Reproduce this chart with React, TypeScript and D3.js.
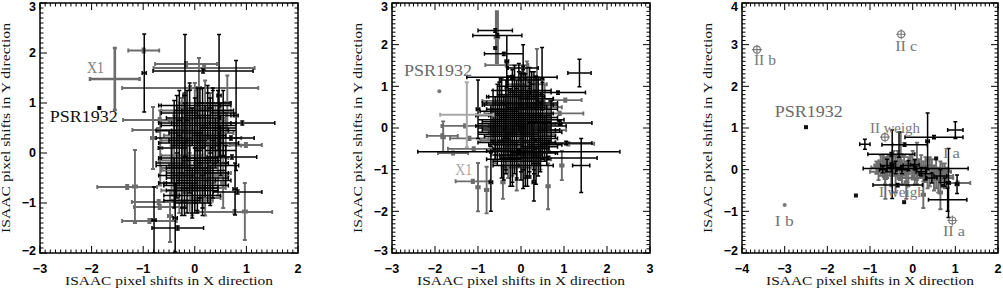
import React from "react";
import * as d3 from "d3";

// each point: [x, y, xerr, yerr] in ISAAC pixels
type Pt = [number, number, number, number];

// ---- panel 1 ----
const p1Gray: Pt[] = [
  [-0.25, 0.65, 0.4, 0.45], [0.0, 0.9, 0.35, 0.5], [0.15, 0.5, 0.45, 0.4], [0.3, 0.85, 0.4, 0.35],
  [-0.1, 0.35, 0.5, 0.55], [0.5, 0.6, 0.3, 0.4], [-0.35, 0.45, 0.35, 0.3], [0.2, 1.0, 0.5, 0.45],
  [0.05, 0.65, 0.55, 0.6], [0.4, 0.4, 0.35, 0.6], [-0.2, 0.85, 0.45, 0.35], [0.6, 0.3, 0.3, 0.5],
  [0.1, 0.25, 0.4, 0.45], [-0.4, 0.25, 0.25, 0.5],
  [-0.2, -0.3, 0.45, 0.5], [0.0, -0.45, 0.4, 0.55], [0.15, -0.7, 0.45, 0.4], [-0.3, -0.75, 0.35, 0.45],
  [0.25, -0.1, 0.4, 0.5], [-0.1, -0.6, 0.5, 0.6], [0.05, -0.25, 0.55, 0.45], [-0.4, -0.15, 0.3, 0.4],
  [0.3, -0.45, 0.35, 0.55], [-0.05, -0.95, 0.4, 0.3], [0.2, -0.9, 0.3, 0.35], [-0.25, -0.05, 0.4, 0.35],
  [0.55, 0.15, 0.35, 0.55], [0.45, -0.4, 0.25, 0.45], [-0.45, -0.35, 0.2, 0.5],
  [-1.31, -0.68, 0.58, 0.04], [-0.88, -1.36, 0.53, 0.04], [-1.16, -0.67, 0.04, 0.73],
  [-0.7, -0.98, 0.52, 0.04], [-0.68, -1.08, 0.5, 0.04], [-0.48, -1.26, 0.04, 0.52],
  [0.97, -1.17, 0.04, 0.57], [0.77, -1.18, 0.73, 0.04], [0.99, 0.16, 0.31, 0.04],
  [-0.09, 1.3, 1.32, 0.04], [0.18, 1.7, 0.98, 0.04], [-0.68, 0.66, 0.71, 0.04],
  [-0.71, 0.46, 0.5, 0.04], [0.08, 1.3, 0.04, 0.6], [-0.81, 0.3, 0.04, 0.62],
  [-0.67, 0.1, 0.04, 0.75], [-0.99, 2.05, 0.3, 0.04], [0.63, 1.0, 0.04, 0.55],
  [-0.17, 1.78, 0.6, 0.04], [0.55, -0.6, 0.04, 0.5],
];
const p1X1: Pt[] = [[-1.55, 1.48, 0.48, 0.62]];
const p1Black: Pt[] = [
  [-0.3, 0.55, 0.35, 0.4], [-0.1, 0.7, 0.45, 0.55], [0.05, 0.85, 0.3, 0.45], [0.2, 0.6, 0.5, 0.35],
  [0.35, 0.75, 0.4, 0.5], [-0.2, 0.4, 0.3, 0.6], [0.1, 0.45, 0.55, 0.4], [0.45, 0.5, 0.35, 0.45],
  [-0.35, 0.8, 0.3, 0.35], [0.25, 0.95, 0.45, 0.4], [0.0, 0.3, 0.4, 0.5], [-0.15, 0.95, 0.5, 0.3],
  [0.3, 0.35, 0.3, 0.55], [0.55, 0.8, 0.25, 0.45], [-0.25, 0.2, 0.45, 0.4], [0.15, 0.7, 0.35, 0.6],
  [-0.05, 0.55, 0.6, 0.35], [0.4, 0.2, 0.45, 0.5],
  [-0.4, 0.6, 0.3, 0.45], [-0.3, 0.95, 0.4, 0.3], [-0.15, 0.25, 0.35, 0.5], [0.0, 0.6, 0.45, 0.5],
  [0.1, 0.95, 0.4, 0.35], [0.2, 0.3, 0.35, 0.45], [0.3, 0.55, 0.5, 0.55], [0.45, 0.85, 0.3, 0.4],
  [0.55, 0.45, 0.25, 0.5], [-0.25, 0.45, 0.5, 0.35], [0.05, 0.15, 0.45, 0.4], [0.35, 1.0, 0.35, 0.3],
  [-0.1, 0.85, 0.3, 0.55], [0.25, 0.75, 0.45, 0.45], [-0.35, 0.3, 0.4, 0.55],
  [-0.15, -0.4, 0.4, 0.55], [0.05, -0.55, 0.35, 0.6], [-0.3, -0.25, 0.45, 0.4], [0.2, -0.35, 0.4, 0.5],
  [-0.05, -0.75, 0.5, 0.45], [0.1, -0.15, 0.35, 0.55], [-0.25, -0.6, 0.3, 0.5], [0.3, -0.65, 0.35, 0.4],
  [-0.1, -0.1, 0.55, 0.35], [0.0, -0.85, 0.3, 0.35], [-0.35, -0.45, 0.35, 0.45], [0.15, -0.5, 0.5, 0.6],
  [-0.2, -0.85, 0.4, 0.4], [0.35, -0.2, 0.3, 0.45],
  [-0.4, -0.6, 0.3, 0.5], [-0.25, -0.95, 0.35, 0.3], [-0.1, -0.3, 0.45, 0.5], [0.05, -0.7, 0.4, 0.5],
  [0.2, -0.15, 0.3, 0.4], [0.25, -0.55, 0.45, 0.45], [-0.3, -0.1, 0.4, 0.45], [-0.05, -1.0, 0.35, 0.3],
  [0.1, -0.4, 0.5, 0.5], [-0.2, -0.5, 0.35, 0.6], [0.35, -0.4, 0.3, 0.5], [-0.15, -0.65, 0.45, 0.55],
  [0.0, -0.1, 0.35, 0.45], [-0.45, -0.2, 0.3, 0.4], [0.15, -0.85, 0.35, 0.4],
  [0.5, 0.05, 0.3, 0.5], [0.6, -0.25, 0.25, 0.4], [-0.45, 0.1, 0.25, 0.35],
  [-0.98, 1.6, 0.04, 0.78], [-0.19, 1.15, 0.04, 1.22], [0.47, 1.15, 0.04, 1.22], [0.8, 0.75, 0.04, 1.1],
  [0.16, 1.64, 0.97, 0.04], [-0.33, -1.5, 0.5, 0.04], [-0.79, -1.34, 0.04, 0.66],
  [-0.38, -1.3, 0.04, 0.68], [0.83, -0.78, 0.47, 0.04], [0.78, -0.72, 0.04, 0.52],
  [0.92, 0.6, 0.63, 0.04], [0.72, -0.08, 0.48, 0.04], [0.7, 0.3, 0.45, 0.04],
];

// ---- panel 2 ----
const p2Gray: Pt[] = [
  [-0.4, 0.05, 0.5, 0.75], [-0.15, 0.45, 0.55, 0.6], [0.1, -0.45, 0.5, 0.7], [0.35, 0.1, 0.45, 0.8],
  [-0.3, -0.65, 0.4, 0.55], [0.2, 0.7, 0.55, 0.5], [-0.05, -0.1, 0.7, 0.85], [0.45, -0.35, 0.35, 0.65],
  [-0.5, 0.65, 0.4, 0.45], [0.05, 0.25, 0.6, 0.7], [-0.2, -0.35, 0.45, 0.8], [0.3, -0.75, 0.4, 0.5],
  [0.55, 0.5, 0.4, 0.55], [-0.35, 0.35, 0.5, 0.6], [0.15, 1.05, 0.45, 0.4], [-0.6, -0.3, 0.35, 0.55],
  [0.0, 0.6, 0.5, 0.75], [0.25, -0.15, 0.55, 0.65], [-0.1, -0.95, 0.35, 0.55], [0.65, -0.05, 0.4, 0.5],
  [-0.33, 1.51, 0.5, 0.04], [-1.83, -0.19, 0.36, 0.04], [-1.81, -0.22, 0.04, 0.38],
  [-1.12, -1.28, 0.4, 0.04], [-1.58, -0.6, 0.35, 0.04], [-1.0, -1.42, 0.04, 0.58],
  [-0.8, -1.49, 0.04, 0.56], [-0.42, -1.3, 0.04, 0.4], [0.63, -1.4, 0.04, 0.55],
  [0.95, -0.9, 0.04, 0.35], [1.03, 0.67, 0.38, 0.04], [0.37, 1.2, 0.04, 0.7],
  [0.14, 1.0, 0.04, 0.6], [1.1, -0.38, 0.6, 0.04], [-1.3, 0.05, 0.55, 0.04], [-1.1, -0.5, 0.6, 0.04],
  [0.9, 0.35, 0.55, 0.04], [-1.2, -0.25, 0.45, 0.04],
];
const p2GrayThick: Pt[] = [[-0.56, 2.18, 0.03, 0.6]];
const p2LightGray: Pt[] = [[-1.26, 0.32, 0.62, 0.78]];
const p2Black: Pt[] = [
  [-0.5, 0.4, 0.45, 0.7], [-0.35, -0.2, 0.5, 0.8], [-0.2, 0.6, 0.4, 0.65], [-0.1, -0.5, 0.55, 0.75],
  [0.0, 0.1, 0.6, 0.9], [0.1, 0.5, 0.45, 0.7], [0.2, -0.3, 0.5, 0.85], [0.3, 0.3, 0.4, 0.6],
  [0.4, -0.1, 0.55, 0.75], [-0.45, -0.55, 0.35, 0.65], [-0.25, 0.15, 0.65, 0.8], [-0.05, 0.8, 0.5, 0.55],
  [0.15, -0.7, 0.45, 0.7], [0.35, 0.7, 0.4, 0.55], [0.5, 0.2, 0.35, 0.6], [-0.6, 0.0, 0.4, 0.75],
  [-0.15, -0.15, 0.55, 0.95], [0.05, 0.35, 0.7, 0.8], [0.25, 0.0, 0.45, 0.9], [-0.3, 0.75, 0.45, 0.5],
  [0.45, -0.45, 0.4, 0.6], [-0.4, 0.2, 0.6, 0.55], [0.1, -0.2, 0.35, 1.0], [-0.1, 0.3, 0.45, 0.85],
  [0.2, 0.85, 0.5, 0.6], [-0.2, -0.8, 0.45, 0.6], [0.6, 0.1, 0.35, 0.45], [-0.55, 0.55, 0.35, 0.5],
  [0.0, -0.35, 0.65, 0.7], [0.3, -0.6, 0.55, 0.5], [-0.35, -0.4, 0.4, 0.7], [0.15, 0.15, 0.55, 0.75],
  [-0.05, 0.55, 0.8, 0.65], [0.4, 0.45, 0.45, 0.7], [-0.25, -0.05, 0.35, 0.65], [0.05, -0.9, 0.4, 0.55],
  [0.55, -0.25, 0.3, 0.55], [-0.45, -0.1, 0.55, 0.45], [-0.15, 1.0, 0.4, 0.5], [0.25, 0.55, 0.6, 0.8],
  [-0.65, 0.3, 0.4, 0.6], [-0.55, -0.35, 0.45, 0.55], [-0.45, 0.75, 0.35, 0.45], [-0.4, -0.75, 0.4, 0.5],
  [-0.3, 0.45, 0.5, 0.7], [-0.3, -0.05, 0.6, 0.6], [-0.2, 0.9, 0.45, 0.5], [-0.2, -0.55, 0.5, 0.75],
  [-0.1, 0.15, 0.55, 0.8], [-0.1, -0.3, 0.45, 0.9], [0.0, 0.45, 0.6, 0.7], [0.0, -0.65, 0.5, 0.6],
  [0.1, 0.75, 0.45, 0.55], [0.1, 0.05, 0.6, 0.85], [0.2, -0.5, 0.45, 0.7], [0.2, 0.35, 0.55, 0.75],
  [0.3, -0.2, 0.5, 0.8], [0.3, 0.9, 0.4, 0.45], [0.4, 0.25, 0.45, 0.6], [0.4, -0.6, 0.4, 0.55],
  [0.5, -0.05, 0.4, 0.7], [0.5, 0.6, 0.35, 0.5], [0.6, -0.4, 0.35, 0.5], [-0.5, 0.1, 0.5, 0.65],
  [-0.15, 0.6, 0.65, 0.6], [0.05, -0.05, 0.75, 0.95], [0.25, 0.2, 0.6, 0.85], [-0.35, 0.6, 0.55, 0.55],
  [0.15, -0.35, 0.65, 0.8], [-0.05, 1.15, 0.45, 0.4], [0.35, -0.9, 0.4, 0.45], [-0.25, -0.9, 0.4, 0.5],
  [0.45, 0.05, 0.6, 0.6], [-0.6, -0.15, 0.4, 0.5], [0.7, 0.2, 0.3, 0.45], [-0.7, 0.05, 0.35, 0.5],
  [0.0, 0.25, 0.5, 1.05], [0.2, -0.05, 0.5, 1.0], [-0.2, 0.3, 0.55, 0.9], [0.1, -0.8, 0.5, 0.6],
  [-0.6, 2.34, 0.4, 0.04], [-0.55, 2.22, 0.57, 0.04], [-0.4, 1.78, 0.45, 0.04], [1.36, 1.32, 0.27, 0.33],
  [1.4, -0.9, 0.2, 0.65], [-0.05, -0.57, 2.35, 0.04], [-0.21, 1.22, 1.05, 0.04], [0.05, 1.44, 0.35, 0.04],
  [-0.33, 1.6, 0.04, 0.62], [0.05, 1.3, 0.04, 0.7], [0.49, 1.18, 0.04, 0.75], [0.86, 0.85, 0.64, 0.04],
  [0.64, -0.72, 1.13, 0.04], [0.9, 0.12, 0.75, 0.04], [1.05, -0.36, 0.6, 0.04], [-1.0, 0.45, 0.04, 0.7],
  [-0.7, -1.3, 0.04, 0.7], [0.3, -1.3, 0.04, 0.45],
];
const p2Dots: [number, number][] = [[-0.6, 1.92]];

// ---- panel 3 ----
const p3Gray: Pt[] = [
  [-0.85, 0.05, 0.12, 0.15], [-0.75, 0.1, 0.15, 0.25], [-0.65, -0.05, 0.2, 0.3], [-0.55, 0.15, 0.15, 0.2],
  [-0.5, 0.0, 0.25, 0.35], [-0.45, 0.2, 0.2, 0.25], [-0.4, -0.1, 0.15, 0.45], [-0.3, 0.05, 0.25, 0.3],
  [-0.2, 0.1, 0.2, 0.25], [-0.1, -0.05, 0.15, 0.35], [0.0, 0.15, 0.2, 0.3], [0.1, -0.1, 0.25, 0.25],
  [0.15, 0.05, 0.15, 0.2], [0.25, -0.2, 0.2, 0.4], [0.3, 0.0, 0.25, 0.3], [0.4, -0.15, 0.15, 0.25],
  [0.45, 0.05, 0.2, 0.2], [0.55, -0.1, 0.25, 0.35], [0.6, -0.25, 0.15, 0.3], [0.7, -0.05, 0.2, 0.2],
  [0.8, -0.2, 0.15, 0.25], [-0.64, -0.2, 0.04, 0.5], [0.25, -0.6, 0.04, 0.32], [0.65, -0.55, 0.04, 0.4],
  [1.05, -0.32, 0.3, 0.04], [-0.3, 0.3, 0.3, 0.04], [0.0, -0.2, 0.35, 0.04],
  [-0.8, -0.05, 0.2, 0.2], [-0.7, 0.2, 0.1, 0.15], [-0.6, 0.05, 0.15, 0.25], [-0.35, 0.15, 0.2, 0.3],
  [-0.25, -0.1, 0.15, 0.25], [-0.15, 0.0, 0.25, 0.2], [-0.05, 0.2, 0.15, 0.15], [0.05, -0.05, 0.2, 0.3],
  [0.2, 0.1, 0.2, 0.25], [0.35, -0.1, 0.2, 0.35], [0.5, -0.2, 0.15, 0.3], [0.65, 0.0, 0.2, 0.2],
  [0.75, -0.15, 0.2, 0.3], [0.4, 0.1, 0.15, 0.2], [-0.5, -0.15, 0.2, 0.25],
  [-0.28, 0.35, 0.04, 0.55], [0.1, 0.2, 0.04, 0.45], [-0.15, -0.3, 0.04, 0.4],
];
const p3Black: Pt[] = [
  [1.0, 0.95, 0.18, 0.2], [-1.12, 0.61, 0.12, 0.12], [0.82, -0.72, 0.45, 0.28], [0.35, 0.68, 0.04, 0.68],
  [0.5, 0.78, 0.68, 0.04], [-0.32, 0.6, 0.15, 0.3], [-0.19, 0.6, 0.53, 0.04], [-0.5, 0.37, 0.55, 0.04],
  [0.07, 0.03, 1.23, 0.04], [-0.48, 0.13, 0.04, 0.82], [1.04, -0.35, 0.04, 0.22], [0.84, -0.32, 0.04, 0.83],
  [-0.35, -0.37, 0.58, 0.04], [-0.5, 0.05, 0.1, 0.1], [0.2, -0.05, 0.12, 0.1], [-0.7, 0.0, 0.08, 0.08],
  [0.05, 0.12, 0.1, 0.12], [-0.25, 0.0, 0.12, 0.1],
  [-0.6, 0.1, 0.15, 0.15], [-0.4, 0.05, 0.12, 0.15], [0.3, -0.1, 0.15, 0.15], [0.45, -0.2, 0.12, 0.12],
  [0.65, -0.15, 0.15, 0.15], [-0.1, 0.1, 0.12, 0.12], [0.75, -0.3, 0.1, 0.1],
];
const p3Dots: [number, number][] = [[-1.33, -0.62], [0.55, 0.27], [0.7, -0.38], [-0.2, -0.78]];
const p3Circles: [number, number][] = [[-3.65, 2.88], [-0.27, 3.25], [-0.65, 0.78], [0.93, -1.22]];

const TICK_FONT = "'Liberation Sans', Arial, sans-serif";
const SERIF = "'Liberation Serif', 'Times New Roman', serif";
const GRAY = "#6c6c6c";

type Label = { text: string; x: number; y: number; color: string; size: number; len?: number };

type PanelCfg = {
  left: number; right: number; top: number; bottom: number;
  xDom: [number, number]; yDom: [number, number];
  gray: Pt[]; black: Pt[]; thick?: Pt[]; thickW?: number; light?: Pt[];
  dots: [number, number][]; grayDots?: [number, number][]; circles?: [number, number][];
  labels: Label[]; id: string; ylabelX: number;
};

function bars(pts: Pt[], x: d3.ScaleLinear<number, number>, y: d3.ScaleLinear<number, number>, cap = 2) {
  return pts.map(([cx, cy, ex, ey]) => {
    const x0 = x(cx - ex), x1 = x(cx + ex), yc = y(cy);
    const y0 = y(cy - ey), y1 = y(cy + ey), xc = x(cx);
    return `M${x0},${yc}H${x1}M${x0},${yc - cap}V${yc + cap}M${x1},${yc - cap}V${yc + cap}` +
      `M${xc},${y0}V${y1}M${xc - cap},${y0}H${xc + cap}M${xc - cap},${y1}H${xc + cap}`;
  }).join("");
}

function Panel({ c }: { c: PanelCfg }) {
  const x = d3.scaleLinear().domain(c.xDom).range([c.left, c.right]);
  const y = d3.scaleLinear().domain(c.yDom).range([c.bottom, c.top]);
  const xMajor = d3.range(c.xDom[0], c.xDom[1] + 0.001, 1);
  const yMajor = d3.range(c.yDom[0], c.yDom[1] + 0.001, 1);
  const xMinor = d3.range(c.xDom[0] * 10, c.xDom[1] * 10 + 1).map((v) => v / 10);
  const yMinor = d3.range(c.yDom[0] * 10, c.yDom[1] * 10 + 1).map((v) => v / 10);
  const MJ = 7, MN = 3.5;
  const tickPath =
    xMinor.map((v) => {
      const l = Math.abs(v - Math.round(v)) < 1e-6 ? MJ : MN;
      return `M${x(v)},${c.bottom}v${-l}M${x(v)},${c.top}v${l}`;
    }).join("") +
    yMinor.map((v) => {
      const l = Math.abs(v - Math.round(v)) < 1e-6 ? MJ : MN;
      return `M${c.left},${y(v)}h${l}M${c.right},${y(v)}h${-l}`;
    }).join("");
  const fmt = (v: number) => (v < 0 ? "\u2212" + Math.abs(v) : String(v));
  const cx = (c.left + c.right) / 2, cy = (c.top + c.bottom) / 2;
  return (
    <g>
      <clipPath id={c.id}>
        <rect x={c.left} y={c.top} width={c.right - c.left} height={c.bottom - c.top} />
      </clipPath>
      <g clipPath={`url(#${c.id})`} fill="none">
        {c.thick && <path d={bars(c.thick, x, y)} stroke={GRAY} strokeWidth={c.thickW || 4} />}
        <path d={bars(c.gray, x, y)} stroke={GRAY} strokeWidth={1.9} />
        <path d={bars(c.black, x, y)} stroke="#000" strokeWidth={1.5} />
        {c.light && <path d={bars(c.light, x, y)} stroke="#a8a8a8" strokeWidth={2} />}
        {c.dots.map(([px, py], i) => (
          <rect key={i} x={x(px) - 2} y={y(py) - 2} width={4} height={4} fill="#111" />
        ))}
        {(c.grayDots || []).map(([px, py], i) => (
          <circle key={i} cx={x(px)} cy={y(py)} r={2} fill="#777" />
        ))}
        {(c.circles || []).map(([px, py], i) => (
          <g key={i} stroke="#777" strokeWidth={1.1}>
            <circle cx={x(px)} cy={y(py)} r={3.5} fill="none" />
            <path d={`M${x(px) - 5},${y(py)}h10M${x(px)},${y(py) - 5}v10`} />
          </g>
        ))}
      </g>
      {c.labels.map((l, i) => (
        <text key={i} x={x(l.x)} y={y(l.y)} fill={l.color} fontFamily={SERIF} fontSize={l.size}
          textLength={l.len} lengthAdjust="spacingAndGlyphs">{l.text}</text>
      ))}
      <rect x={c.left} y={c.top} width={c.right - c.left} height={c.bottom - c.top}
        fill="none" stroke="#000" strokeWidth={1.5} />
      <path d={tickPath} stroke="#000" strokeWidth={1} fill="none" />
      {xMajor.map((v) => (
        <text key={v} x={x(v)} y={272.5} textAnchor="middle" fontFamily={TICK_FONT} fontSize={12.5}
          fontWeight={600}>{fmt(v)}</text>
      ))}
      {yMajor.map((v) => (
        <text key={v} x={c.left - 4} y={Math.min(Math.max(y(v) + 4.4, 10.5), 254.5)} textAnchor="end"
          fontFamily={TICK_FONT} fontSize={12.5} fontWeight={600}>{fmt(v)}</text>
      ))}
      <text x={cx} y={284.5} textAnchor="middle" fontFamily={SERIF} fontSize={12} textLength={208}
        lengthAdjust="spacingAndGlyphs" fill="#111">ISAAC pixel shifts in X direction</text>
      <text transform={`translate(${c.ylabelX},${cy}) rotate(-90)`} textAnchor="middle" fontFamily={SERIF}
        fontSize={12} textLength={210} lengthAdjust="spacingAndGlyphs" fill="#111">
        ISAAC pixel shifts in Y direction
      </text>
    </g>
  );
}

const panels: PanelCfg[] = [
  {
    id: "c1", left: 40, right: 298, top: 3, bottom: 253, xDom: [-3, 2], yDom: [-2, 3],
    gray: p1Gray, black: p1Black, dots: [[-1.85, 0.9]], ylabelX: 10,
    thick: p1X1, thickW: 2.6,
    labels: [
      { text: "X1", x: -2.09, y: 1.6, color: "#808080", size: 16, len: 17 },
      { text: "PSR1932", x: -2.81, y: 0.62, color: "#111", size: 16, len: 68 },
    ],
  },
  {
    id: "c2", left: 392, right: 650, top: 3, bottom: 253, xDom: [-3, 3], yDom: [-3, 3],
    gray: p2Gray, black: p2Black, thick: p2GrayThick, light: p2LightGray, dots: p2Dots,
    grayDots: [[-1.9, 0.88]], ylabelX: 362,
    labels: [
      { text: "PSR1932", x: -2.72, y: 1.25, color: "#6a6a6a", size: 16, len: 68 },
      { text: "X1", x: -1.53, y: -1.13, color: "#a8a8a8", size: 16, len: 17 },
    ],
  },
  {
    id: "c3", left: 742, right: 998, top: 3, bottom: 253, xDom: [-4, 2], yDom: [-2, 4],
    gray: p3Gray, black: p3Black, dots: [...p3Dots, [-2.5, 1.02]], circles: p3Circles,
    grayDots: [[-3.0, -0.85]], ylabelX: 712,
    labels: [
      { text: "II b", x: -3.72, y: 2.51, color: "#777", size: 14, len: 22 },
      { text: "II c", x: -0.41, y: 2.85, color: "#777", size: 14, len: 22 },
      { text: "PSR1932", x: -3.23, y: 1.26, color: "#6a6a6a", size: 16, len: 68 },
      { text: "I b", x: -3.23, y: -1.35, color: "#777", size: 14, len: 19 },
      { text: "II weigh", x: -1.0, y: 0.88, color: "#777", size: 14, len: 50 },
      { text: "I a", x: 0.71, y: 0.28, color: "#777", size: 14, len: 17 },
      { text: "I weigh", x: -0.79, y: -0.66, color: "#777", size: 14, len: 46 },
      { text: "II a", x: 0.71, y: -1.59, color: "#777", size: 14, len: 22 },
    ],
  },
];

export default function App() {
  return (
    <svg width={1003} height={290} style={{ position: "absolute", left: 0, top: 0, background: "#fff" }}>
      {panels.map((p) => (
        <Panel key={p.id} c={p} />
      ))}
    </svg>
  );
}
